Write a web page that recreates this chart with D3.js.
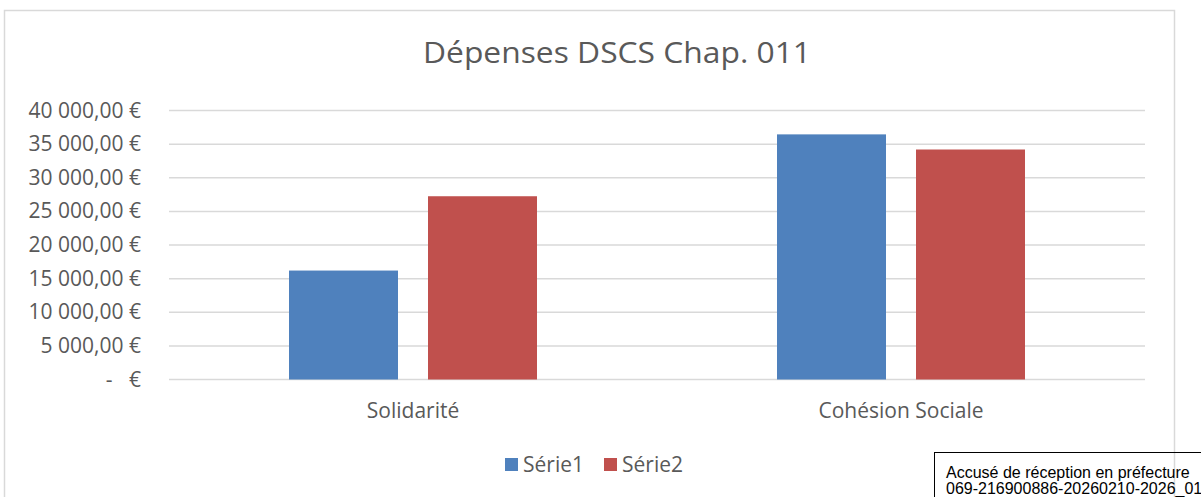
<!DOCTYPE html>
<html>
<head>
<meta charset="utf-8">
<script src="https://cdn.jsdelivr.net/npm/d3@7"></script>
<style>
  body { margin: 0; background: #fff; }
  text { font-family: "Open Sans", sans-serif; fill: #595959; }
</style>
</head>
<body>
<div id="app"></div>
<script>
const categories = ["Solidarité", "Cohésion Sociale"];
const seriesNames = ["Série1", "Série2"];
const serie1 = [16200, 36450];
const serie2 = [27250, 34200];
const yTicks = [0, 5000, 10000, 15000, 20000, 25000, 30000, 35000, 40000];
const colors = ["#4f81bd", "#c0504d"];

const w = 1201;
const h = 497;

const svg = d3.select("#app").append("svg").attr("width", w).attr("height", h);

// chart frame (bottom edge is cut off in the picture)
svg.append("rect")
  .attr("x", 4.5).attr("y", 10.5)
  .attr("width", 1170).attr("height", 520)
  .attr("fill", "#fff")
  .attr("stroke", "#d9d9d9")
  .attr("stroke-width", 1.5);

// title
svg.append("text")
  .attr("x", 617).attr("y", 63)
  .attr("text-anchor", "middle")
  .attr("font-size", 29)
  .attr("textLength", 388)
  .attr("lengthAdjust", "spacingAndGlyphs")
  .text("Dépenses DSCS Chap. 011");

// scales
const yScale = d3.scaleLinear().domain([0, 40000]).range([379.5, 110.5]);
const xScale = d3.scaleBand().domain(categories).range([169, 1145]);
const xSub = d3.scaleBand()
  .domain(seriesNames)
  .range([0, xScale.bandwidth()])
  .paddingInner(30 / 139)
  .paddingOuter(120 / 139);

// grid
svg.append("g")
  .selectAll("line")
  .data(yTicks)
  .join("line")
  .attr("x1", 169).attr("x2", 1145)
  .attr("y1", (d) => yScale(d)).attr("y2", (d) => yScale(d))
  .attr("stroke", "#d9d9d9")
  .attr("stroke-width", 1.5);

// y labels
const fmt = (v) => v === 0 ? "-   €" : d3.format(",.2f")(v).replace(",", " ").replace(".", ",") + " €";
svg.append("g")
  .selectAll("text")
  .data(yTicks)
  .join("text")
  .attr("x", 141)
  .attr("y", (d) => yScale(d) + 7)
  .attr("text-anchor", "end")
  .attr("font-size", 21)
  .style("white-space", "pre")
  .text(fmt);

// bars
const rows = categories.map((c, i) => ({ cat: c, values: [serie1[i], serie2[i]] }));
svg.append("g")
  .selectAll("g")
  .data(rows)
  .join("g")
  .attr("transform", (d) => `translate(${xScale(d.cat)},0)`)
  .selectAll("rect")
  .data((d) => d.values.map((v, j) => ({ name: seriesNames[j], v: v, j: j })))
  .join("rect")
  .attr("x", (d) => xSub(d.name))
  .attr("y", (d) => yScale(d.v))
  .attr("width", xSub.bandwidth())
  .attr("height", (d) => yScale(0) - yScale(d.v))
  .attr("fill", (d) => colors[d.j]);

// category labels
svg.append("g")
  .selectAll("text")
  .data(categories)
  .join("text")
  .attr("x", (d) => xScale(d) + xScale.bandwidth() / 2)
  .attr("y", 418)
  .attr("text-anchor", "middle")
  .attr("font-size", 21)
  .text((d) => d);

// legend
const legendX = [505, 604];
const leg = svg.append("g")
  .selectAll("g")
  .data(seriesNames)
  .join("g")
  .attr("transform", (d, i) => `translate(${legendX[i]},458)`);
leg.append("rect").attr("width", 13).attr("height", 13).attr("fill", (d, i) => colors[i]);
leg.append("text").attr("x", 18).attr("y", 14).attr("font-size", 21).text((d) => d);

// reception stamp
svg.append("rect")
  .attr("x", 934.5).attr("y", 452.5)
  .attr("width", 300).attr("height", 80)
  .attr("fill", "none")
  .attr("stroke", "#000")
  .attr("stroke-width", 1);
svg.append("text")
  .attr("x", 946).attr("y", 478)
  .attr("font-size", 16)
  .style("font-family", "'Liberation Sans', Arial, sans-serif")
  .style("fill", "#000")
  .text("Accusé de réception en préfecture");
svg.append("text")
  .attr("x", 946).attr("y", 494)
  .attr("font-size", 16)
  .style("font-family", "'Liberation Sans', Arial, sans-serif")
  .style("fill", "#000")
  .text("069-216900886-20260210-2026_01");
</script>
</body>
</html>
